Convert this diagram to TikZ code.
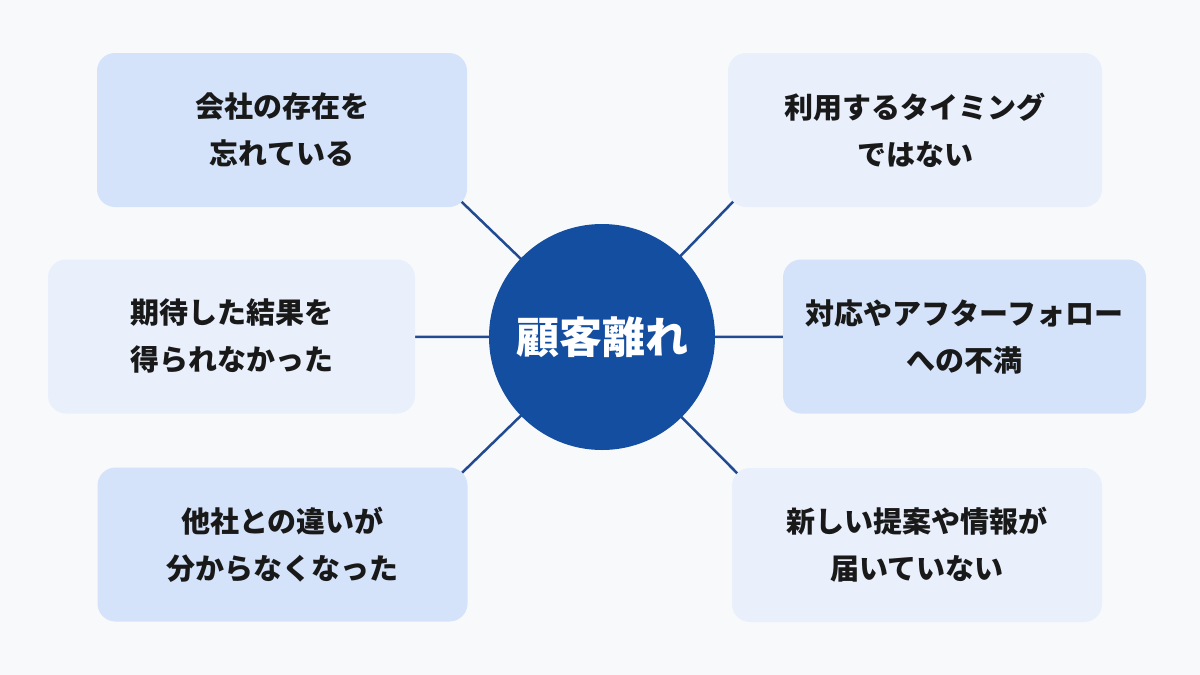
\documentclass[tikz,border=0pt]{standalone}
\usepackage{fontspec}
\newfontfamily\jp{Noto Sans CJK JP}
\usetikzlibrary{backgrounds,calc}
\definecolor{bgc}{RGB}{248,249,251}
\definecolor{boxdark}{RGB}{212,227,250}
\definecolor{boxlight}{RGB}{233,240,252}
\definecolor{hubblue}{RGB}{20,78,160}
\definecolor{linkblue}{RGB}{32,74,145}
\begin{document}
\begin{tikzpicture}[x=1pt,y=-1pt,
    reason/.style={rounded corners=18pt,minimum width=370pt,minimum height=154pt,align=center,
        font=\jp\bfseries\fontsize{29}{47}\selectfont,text=black!90},
    link/.style={linkblue,line width=2.5pt}]
    \useasboundingbox(0,0)rectangle(1200,675);
    \node[circle,fill=hubblue,minimum size=226pt,text=white,font=\jp\bfseries\fontsize{43}{50}\selectfont](hub)at(602,337){顧客離れ};
    \node[reason,fill=boxdark](tl)at(282,130){会社の存在を\\忘れている};
    \node[reason,fill=boxlight,minimum width=367pt](ml)at(231.5,336.5){期待した結果を\\得られなかった};
    \node[reason,fill=boxdark](bl)at(282.5,544.5){他社との違いが\\分からなくなった};
    \node[reason,fill=boxlight,minimum width=374pt](tr)at(915,130){利用するタイミング\\ではない};
    \node[reason,fill=boxdark,minimum width=363pt](mr)at(964.5,336.5){対応やアフターフォロー\\への不満};
    \node[reason,fill=boxlight](br)at(917,545){新しい提案や情報が\\届いていない};
    \begin{scope}[on background layer]
        \fill[bgc](0,0)rectangle(1200,675);
        \draw[link](hub.center)--($(hub.center)!1.08!(tl.south east)$);
        \draw[link](hub.center)--($(hub.center)!1.08!(tr.south west)$);
        \draw[link](hub.center)--($(hub.center)!1.08!(bl.north east)$);
        \draw[link](hub.center)--($(hub.center)!1.08!(br.north west)$);
        \draw[link](hub.center)--(ml);
        \draw[link](hub.center)--(mr);
    \end{scope}
\end{tikzpicture}
\end{document}
